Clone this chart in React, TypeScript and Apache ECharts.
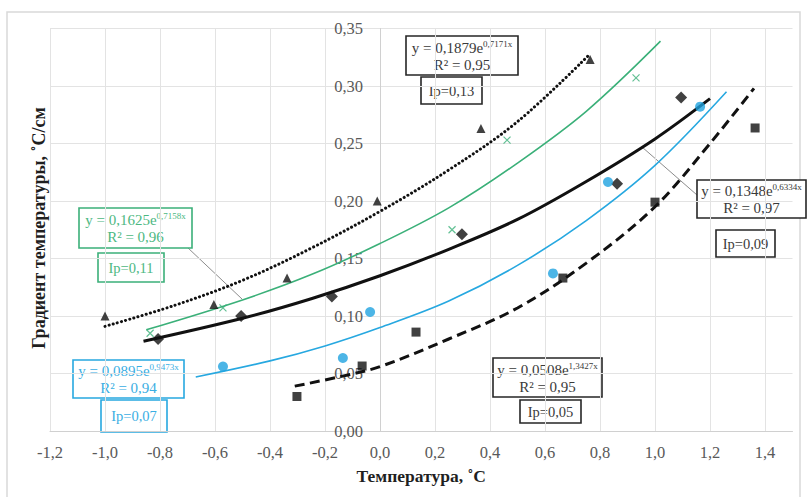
import React, { useEffect, useRef } from "react";
import * as echarts from "echarts";

// ---- data ----
const xTickValues = [-1.2, -1.0, -0.8, -0.6, -0.4, -0.2, 0.0, 0.2, 0.4, 0.6, 0.8, 1.0, 1.2, 1.4];

// measured points (x = temperature, y = gradient)
const ip013Points = [[-1.0, 0.100], [-0.604, 0.110], [-0.338, 0.133], [-0.01, 0.200], [0.367, 0.263], [0.764, 0.323]];
const ip011Points = [[-0.836, 0.085], [-0.571, 0.107], [0.262, 0.175], [0.462, 0.253], [0.931, 0.307]];
const ip009Points = [[-0.807, 0.080], [-0.505, 0.100], [-0.175, 0.117], [0.298, 0.171], [0.862, 0.215], [1.095, 0.290]];
const ip007Points = [[-0.571, 0.056], [-0.135, 0.0635], [-0.036, 0.1035], [0.629, 0.137], [0.829, 0.2165], [1.164, 0.282]];
const ip005Points = [[-0.302, 0.030], [-0.065, 0.0565], [0.131, 0.086], [0.665, 0.133], [1.0, 0.199], [1.364, 0.2635]];

// trend curves
const trend013 = [[-1.0, 0.091], [-0.75, 0.109], [-0.5, 0.131], [-0.25, 0.159], [0, 0.191], [0.25, 0.227], [0.5, 0.269], [0.76, 0.327]];
const trend011 = [[-0.85, 0.088], [-0.5, 0.114], [-0.25, 0.136], [0, 0.163], [0.25, 0.194], [0.5, 0.233], [0.75, 0.278], [1.02, 0.339]];
const trend009 = [[-0.86, 0.078], [-0.5, 0.098], [-0.25, 0.115], [0, 0.135], [0.25, 0.158], [0.5, 0.184], [0.75, 0.217], [1.0, 0.254], [1.2, 0.289]];
const trend007 = [[-0.67, 0.047], [-0.4, 0.061], [-0.2, 0.074], [0, 0.090], [0.25, 0.113], [0.5, 0.144], [0.75, 0.183], [1.0, 0.231], [1.26, 0.295]];
const trend005 = [[-0.31, 0.039], [-0.15, 0.047], [0, 0.056], [0.25, 0.080], [0.5, 0.107], [0.75, 0.146], [1.0, 0.195], [1.2, 0.250], [1.36, 0.298]];

// equation / Ip labels
const eq013 = ["0,1879", "0,7171x", "0,95"];
const eq011 = ["0,1625", "0,7158x", "0,96"];
const eq009 = ["0,1348", "0,6334x", "0,97"];
const eq007 = ["0,0895", "0,9473x", "0,94"];
const eq005 = ["0,0508", "1,3427x", "0,95"];
const ipLabels = ["Ip=0,13", "Ip=0,11", "Ip=0,09", "Ip=0,07", "Ip=0,05"];

const SERIF = "Liberation Serif";
const GREEN = "#3BB079";
const BLUE = "#27A8E0";
const GREEN_TXT = "#4DB882";
const BLUE_TXT = "#3AAEE3";
const DARK_TXT = "#3a3a3a";

function eqBox(x1: number, y1: number, x2: number, y2: number, eq: string[], border: string, txt: string) {
  return {
    type: "group",
    children: [
      {
        type: "rect",
        shape: { x: x1, y: y1, width: x2 - x1, height: y2 - y1 },
        style: { fill: "#fff", stroke: border, lineWidth: 1.6 },
      },
      {
        type: "text",
        x: (x1 + x2) / 2,
        y: (y1 + y2) / 2 + 0.5,
        style: {
          text: `{m|y = ${eq[0]}e}{s|${eq[1]}}\n{m|R² = ${eq[2]}}`,
          align: "center",
          verticalAlign: "middle",
          fill: txt,
          fontFamily: SERIF,
          rich: {
            m: { fontFamily: SERIF, fontSize: 15, lineHeight: 17, fill: txt },
            s: { fontFamily: SERIF, fontSize: 9, lineHeight: 17, verticalAlign: "top", fill: txt },
          },
        },
      },
    ],
  };
}

function ipBox(x1: number, y1: number, x2: number, y2: number, label: string, border: string, txt: string) {
  return {
    type: "group",
    children: [
      {
        type: "rect",
        shape: { x: x1, y: y1, width: x2 - x1, height: y2 - y1 },
        style: { fill: "#fff", stroke: border, lineWidth: 1.6 },
      },
      {
        type: "text",
        x: (x1 + x2) / 2,
        y: (y1 + y2) / 2,
        style: {
          text: label,
          align: "center",
          verticalAlign: "middle",
          fill: txt,
          fontFamily: SERIF,
          fontSize: 14.5,
        },
      },
    ],
  };
}

const fmt1 = (v: number) => (Math.abs(v) < 1e-9 ? 0 : v).toFixed(1).replace(".", ",");
const fmt2 = (v: number) => v.toFixed(2).replace(".", ",");

export default function App() {
  const ref = useRef<HTMLDivElement>(null);
  useEffect(() => {
    if (!ref.current) return;
    const chart = echarts.init(ref.current, undefined, { renderer: "svg" });
    const trendLine = (data: number[][], color: string, width: number, type: any, cap = "butt") => ({
      type: "line",
      data,
      smooth: 0.35,
      showSymbol: false,
      symbol: "none",
      silent: true,
      z: 2,
      lineStyle: { color, width, type, cap },
    });
    const scatter = (data: number[][], symbol: string, size: number, color: string, extra: any = {}) => ({
      type: "scatter",
      data,
      symbol,
      symbolSize: size,
      z: 5,
      itemStyle: { color, ...extra },
    });
    // grid: x from -1.2 (left=50) to 1.5, 275 px per unit; y axis sits at x = 0
    const yAxisShift = -(0 - -1.2) * 275;
    chart.setOption({
      animation: false,
      backgroundColor: "#fff",
      textStyle: { fontFamily: SERIF },
      grid: { left: 50, top: 28.5, width: 742.5, height: 402.5, containLabel: false, outerBoundsMode: "none" },
      xAxis: {
        type: "value",
        min: -1.2,
        max: 1.5,
        interval: 0.2,
        name: "Температура, ˚С",
        nameLocation: "middle",
        nameGap: 36,
        nameTextStyle: { fontFamily: SERIF, fontSize: 17.5, fontWeight: "bold", color: "#1f1f1f" },
        axisLine: { show: true, onZero: false, lineStyle: { color: "#d0d0d0", width: 1 } },
        axisTick: { show: false, customValues: xTickValues },
        axisLabel: {
          customValues: xTickValues,
          formatter: (v: number) => fmt1(v),
          fontFamily: SERIF,
          fontSize: 16.5,
          color: "#595959",
          margin: 13,
        },
        splitLine: { show: true, lineStyle: { color: "#e3e3e3", width: 1 } },
      },
      yAxis: {
        type: "value",
        min: 0,
        max: 0.35,
        interval: 0.05,
        position: "left",
        offset: yAxisShift,
        axisLine: { show: true, onZero: false, lineStyle: { color: "#d0d0d0", width: 1 } },
        axisTick: { show: false },
        axisLabel: {
          formatter: (v: number) => fmt2(v),
          fontFamily: SERIF,
          fontSize: 16.5,
          color: "#595959",
          margin: 17,
        },
        splitLine: { show: true, lineStyle: { color: "#e3e3e3", width: 1 } },
      },
      series: [
        trendLine(trend013, "#111", 3, [0.1, 4.2], "round"),
        trendLine(trend011, GREEN, 1.6, "solid"),
        trendLine(trend009, "#111", 3, "solid"),
        trendLine(trend007, BLUE, 1.6, "solid"),
        trendLine(trend005, "#111", 3, [10, 5.5]),
        scatter(ip013Points, "triangle", 9, "#111"),
        scatter(ip011Points, "path://M0,0L10,10M10,0L0,10", 7, GREEN, { borderColor: GREEN, borderWidth: 1.2 }),
        scatter(ip009Points, "diamond", 12, "#111"),
        scatter(ip007Points, "circle", 10, "#1FA3E0"),
        scatter(ip005Points, "rect", 9, "#111"),
      ],
      graphic: [
        {
          type: "rect",
          shape: { x: 7, y: 12, width: 793, height: 500 },
          style: { fill: "none", stroke: "#d9d9d9", lineWidth: 1.5 },
          z: -10,
          silent: true,
        },
        {
          type: "text",
          x: 39,
          y: 228,
          rotation: Math.PI / 2,
          style: {
            text: "Градиент температуры, ˚С/см",
            align: "center",
            verticalAlign: "middle",
            fontFamily: SERIF,
            fontSize: 18,
            fontWeight: "bold",
            fill: "#1f1f1f",
          },
        },
        { type: "line", shape: { x1: 187, y1: 247, x2: 242, y2: 299 }, style: { stroke: "#8c8c8c", lineWidth: 1 } },
        { type: "line", shape: { x1: 697, y1: 195, x2: 642, y2: 147 }, style: { stroke: "#8c8c8c", lineWidth: 1 } },
        eqBox(406, 36, 518, 75, eq013, "#262626", DARK_TXT),
        ipBox(421, 77, 482, 104, ipLabels[0], "#262626", DARK_TXT),
        eqBox(79, 208, 192, 248, eq011, GREEN, GREEN_TXT),
        ipBox(98, 253, 164, 282, ipLabels[1], GREEN, GREEN_TXT),
        eqBox(697, 180, 806, 218, eq009, "#262626", DARK_TXT),
        ipBox(716, 230, 775, 257, ipLabels[2], "#262626", DARK_TXT),
        eqBox(73, 360, 184, 398, eq007, BLUE, BLUE_TXT),
        ipBox(101, 400, 167, 432, ipLabels[3], BLUE, BLUE_TXT),
        eqBox(493, 358, 602, 397, eq005, "#262626", DARK_TXT),
        ipBox(520, 400, 581, 423, ipLabels[4], "#262626", DARK_TXT),
      ],
    });
    return () => chart.dispose();
  }, []);
  return (
    <div
      ref={ref}
      style={{ position: "fixed", left: 0, top: 0, width: 810, height: 497, background: "#fff" }}
    />
  );
}
